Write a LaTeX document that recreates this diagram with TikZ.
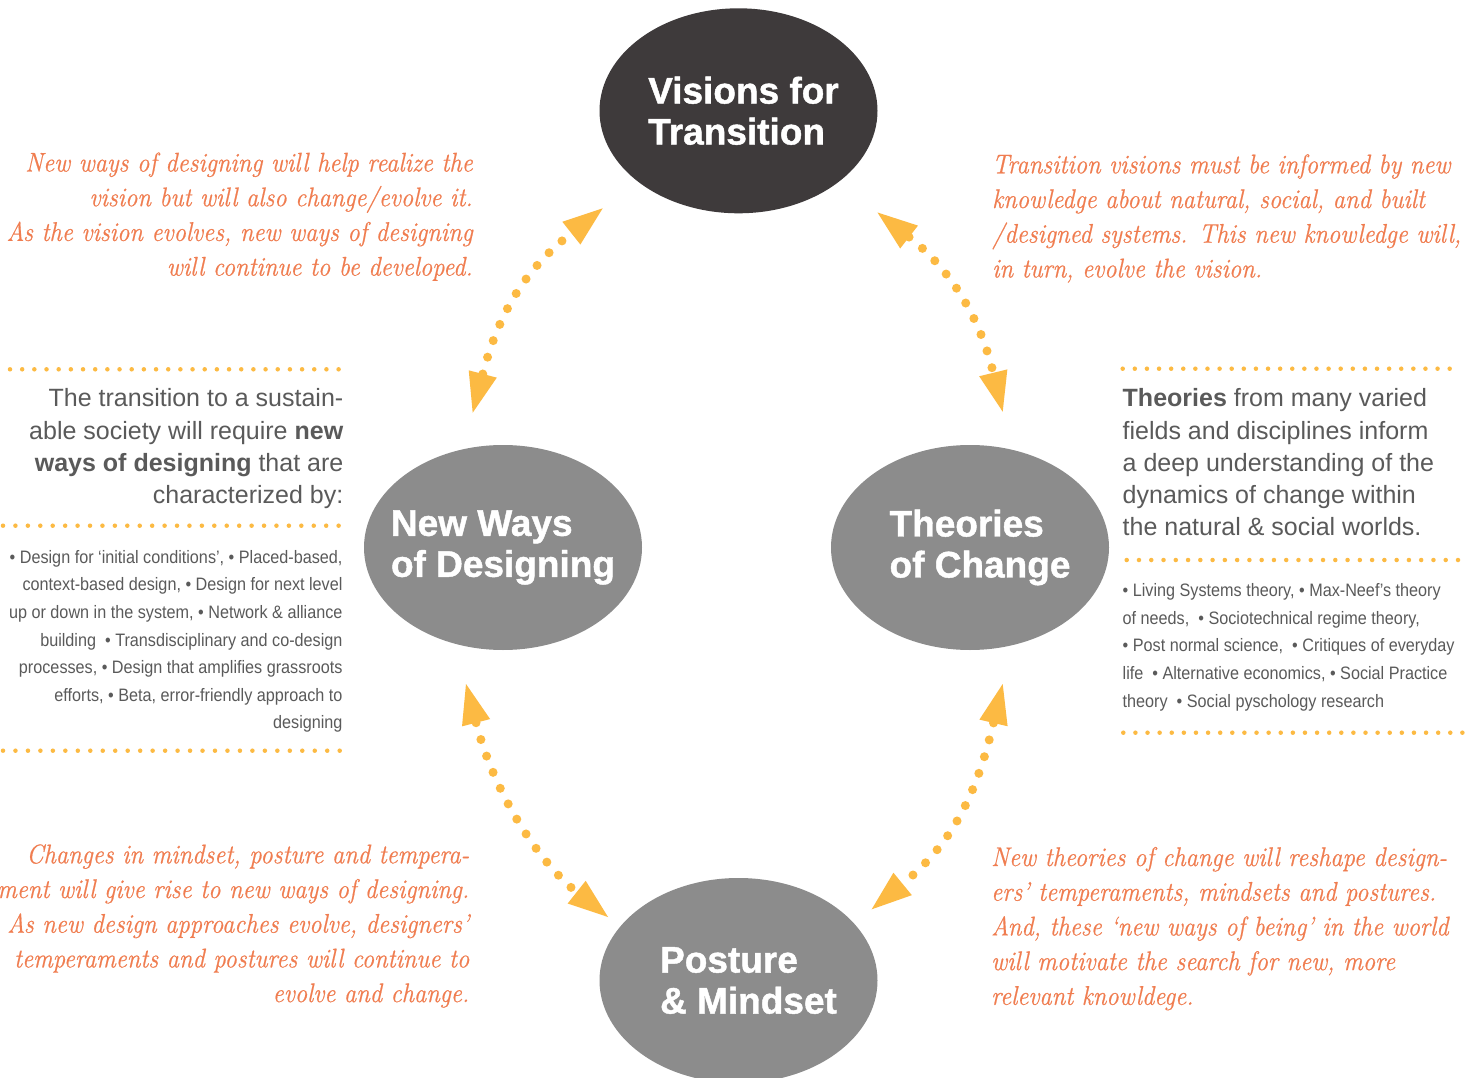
\documentclass[tikz,border=0pt]{standalone}
\usepackage{fontspec}
\usetikzlibrary{shapes.geometric,arrows.meta}
\newfontfamily\headfont{Liberation Sans}
\newfontfamily\listfont{Liberation Sans}[FakeStretch=0.9]
\newfontfamily\labfont{Liberation Sans}[BoldFeatures={FakeBold=1.2}]
\newfontfamily\orfont{Latin Modern Roman}[ItalicFeatures={FakeBold=0.6,FakeStretch=0.91}]
\definecolor{arrowc}{RGB}{252,186,67}
\definecolor{orng}{RGB}{240,125,80}
\definecolor{txtgray}{RGB}{90,90,90}
\definecolor{darkbub}{RGB}{62,58,59}
\definecolor{greybub}{RGB}{140,140,140}
\begin{document}
\begin{tikzpicture}[x=1pt,y=-1pt,
  bubble/.style={ellipse, minimum width=278pt, minimum height=205pt,
    inner xsep=-40pt, inner ysep=-30pt,
    text=white, align=left, font=\labfont\bfseries\fontsize{37}{41}\selectfont},
  orangetxt/.style={text=orng, inner sep=0pt, font=\orfont\itshape\fontsize{27}{34.7}\selectfont},
  headtxt/.style={text=txtgray, inner sep=0pt, font=\headfont\fontsize{25}{32.3}\selectfont},
  listtxt/.style={text=txtgray, inner sep=0pt, font=\listfont\fontsize{18}{27.6}\selectfont},
  twoway/.style={draw=arrowc, line width=9pt, line cap=round, dash pattern=on 0pt off 17.5pt,
    {Triangle[length=40pt,width=29pt,line width=0pt]}-{Triangle[length=40pt,width=29pt,line width=0pt]}},
  sepline/.style={draw=arrowc, line width=4.5pt, line cap=round, dash pattern=on 0pt off #1}]

\useasboundingbox (0,0) rectangle (1476,1078);
\clip (0,0) rectangle (1476,1078);
\fill[white] (0,0) rectangle (1476,1078);

% bubbles
\node[bubble, fill=darkbub] (vis) at (738.5,110.8) {\hspace*{10pt}Visions for\\\hspace*{10pt}Transition};
\node[bubble, fill=greybub] (nwd) at (503,547.5) {New Ways\\of Designing};
\node[bubble, fill=greybub] (toc) at (970,547.5) {\hspace*{20pt}Theories\\\hspace*{20pt}of Change};
\node[bubble, fill=greybub] (pam) at (738.5,980.5) {\hspace*{20pt}Posture\\\hspace*{20pt}\& Mindset};

% arrow end coordinates
\coordinate (a1s) at (472.7,412.7);
\coordinate (a1e) at (602.7,208.3);
\coordinate (a2s) at (877.5,212.5);
\coordinate (a2e) at (1002.7,411.7);
\coordinate (a3s) at (466,684);
\coordinate (a3e) at (608,917);
\coordinate (a4s) at (1002.7,684);
\coordinate (a4e) at (871.7,909.3);

\draw[twoway] (a1s) .. controls (502,300) and (535,262) .. (a1e);
\draw[twoway] (a2s) .. controls (945,265) and (978,310) .. (a2e);
\draw[twoway] (a3s) .. controls (495.3,796.7) and (540.3,863.3) .. (a3e);
\draw[twoway] (a4s) .. controls (975.1,800.8) and (949,845.9) .. (a4e);

% dotted separators
\draw[sepline=12.17pt] (10,369.3) -- (339,369.3);
\draw[sepline=12.43pt] (3,525.7) -- (339,525.7);
\draw[sepline=12.47pt] (3,750.7) -- (340,750.7);
\draw[sepline=12.11pt] (1122.7,368.7) -- (1450,368.7);
\draw[sepline=12.27pt] (1126.7,560) -- (1458.3,560);
\draw[sepline=12.11pt] (1123.3,732.7) -- (1462.7,732.7);

% orange texts (base anchor = baseline of last line)
\node[orangetxt, align=right, anchor=base east] (tl) at (473,275.6)
 {New ways of designing will help realize the\\
  vision but will also change/evolve it.\\
  As the vision evolves, new ways of designing\\
  will continue to be developed.};
\node[orangetxt, align=left, anchor=base west] (tr) at (992,277.4)
 {Transition visions must be informed by new\\
  knowledge about natural, social, and built\\
  /designed systems. This new knowledge will,\\
  in turn, evolve the vision.};
\node[orangetxt, align=right, anchor=base east] (bl) at (469.5,1002.1)
 {Changes in mindset, posture and tempera-\\
  ment will give rise to new ways of designing.\\
  As new design approaches evolve, designers’\\
  temperaments and postures will continue to\\
  evolve and change.};
\node[orangetxt, align=left, anchor=base west] (br) at (991,1004.8)
 {New theories of change will reshape design-\\
  ers’ temperaments, mindsets and postures.\\
  And, these ‘new ways of being’ in the world\\
  will motivate the search for new, more\\
  relevant knowldege.};

% gray texts
\node[headtxt, align=right, anchor=base east] (lh) at (343.5,503.6)
 {The transition to a sustain-\\
  able society will require \textbf{new}\\
  \textbf{ways of designing} that are\\
  characterized by:};
\node[listtxt, align=right, anchor=base east] (ll) at (342.7,728.9)
 {• Design for ‘initial conditions’, • Placed-based,\\
  context-based design, • Design for next level\\
  up or down in the system, • Network \& alliance\\
  building \ • Transdisciplinary and co-design\\
  processes, • Design that amplifies grassroots\\
  efforts, • Beta, error-friendly approach to\\
  designing};
\node[headtxt, align=left, anchor=base west] (rh) at (1122.5,535.9)
 {\textbf{Theories} from many varied\\
  fields and disciplines inform\\
  a deep understanding of the\\
  dynamics of change within\\
  the natural \& social worlds.};
\node[listtxt, align=left, anchor=base west] (rl) at (1122.5,707.1)
 {• Living Systems theory, • Max-Neef’s theory\\
  of needs, \ • Sociotechnical regime theory,\\
  • Post normal science, \ • Critiques of everyday\\
  life \ • Alternative economics, • Social Practice\\
  theory \ • Social pyschology research};
\end{tikzpicture}
\end{document}
